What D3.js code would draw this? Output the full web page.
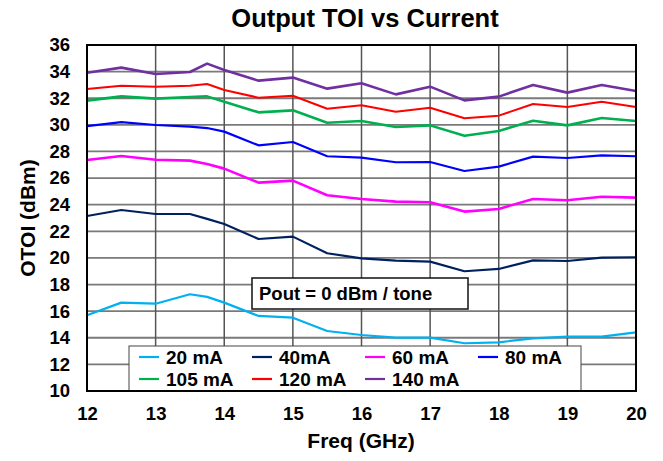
<!DOCTYPE html>
<html>
<head>
<meta charset="utf-8">
<script src="https://cdn.jsdelivr.net/npm/d3@7"></script>
<style>
  html, body { margin: 0; padding: 0; background: #fff; }
  svg { display: block; font-family: Arial, "Liberation Sans", sans-serif; font-weight: bold; }
</style>
</head>
<body>
<div id="chart"></div>
<script>
const freqs = [12, 12.5, 13, 13.5, 13.75, 14, 14.5, 15, 15.5, 16, 16.5, 17, 17.5, 18, 18.5, 19, 19.5, 20];
const seriesNames = ["20 mA", "40mA", "60 mA", "80 mA", "105 mA", "120 mA", "140 mA"];
const s20  = [15.69, 16.64, 16.56, 17.27, 17.07, 16.64, 15.64, 15.51, 14.51, 14.21, 14.01, 14.01, 13.59, 13.66, 13.96, 14.08, 14.08, 14.41];
const s40  = [23.15, 23.60, 23.30, 23.30, 22.93, 22.55, 21.42, 21.60, 20.35, 19.97, 19.79, 19.72, 19.00, 19.17, 19.82, 19.77, 20.02, 20.05];
const s60  = [27.36, 27.66, 27.38, 27.31, 27.06, 26.71, 25.66, 25.81, 24.71, 24.43, 24.23, 24.18, 23.48, 23.68, 24.43, 24.33, 24.60, 24.53];
const s80  = [29.91, 30.21, 29.99, 29.86, 29.76, 29.49, 28.46, 28.71, 27.64, 27.54, 27.19, 27.21, 26.53, 26.86, 27.61, 27.51, 27.71, 27.64];
const s105 = [31.82, 32.14, 31.97, 32.09, 32.14, 31.74, 30.94, 31.09, 30.16, 30.29, 29.84, 29.96, 29.18, 29.54, 30.31, 29.96, 30.51, 30.29];
const s120 = [32.69, 32.94, 32.87, 32.94, 33.07, 32.62, 32.04, 32.19, 31.21, 31.47, 30.99, 31.29, 30.49, 30.69, 31.57, 31.34, 31.74, 31.34];
const s140 = [33.92, 34.30, 33.82, 33.97, 34.60, 34.12, 33.32, 33.55, 32.72, 33.12, 32.29, 32.87, 31.84, 32.12, 33.00, 32.42, 33.00, 32.54];
const xTicks = [12, 13, 14, 15, 16, 17, 18, 19, 20];
const yTicks = [10, 12, 14, 16, 18, 20, 22, 24, 26, 28, 30, 32, 34, 36];
const titleText = "Output TOI vs Current";
const xLabel = "Freq (GHz)";
const yLabel = "OTOI (dBm)";
const noteText = "Pout = 0 dBm / tone";

const allSeries = [s20, s40, s60, s80, s105, s120, s140];
const colors = ["#00B0F0", "#002060", "#FF00FF", "#0000FF", "#00B050", "#FF0000", "#7030A0"];
const widths = [2.2, 2.2, 2.6, 2.2, 2.6, 2.0, 2.6];

const W = 663, H = 461;
const L = 87, R = 636, T = 45, B = 391;

const svg = d3.select("#chart").append("svg").attr("width", W).attr("height", H);

const x = d3.scaleLinear().domain([12, 20]).range([L, R]);
const y = d3.scaleLinear().domain([10, 36]).range([B, T]);

// grid
svg.append("g").selectAll("line").data(yTicks.slice(1, -1)).join("line")
  .attr("x1", L).attr("x2", R).attr("y1", d => y(d)).attr("y2", d => y(d))
  .attr("stroke", "#7a7a7a").attr("stroke-width", 1.8);
svg.append("g").selectAll("line").data(xTicks.slice(1, -1)).join("line")
  .attr("y1", T).attr("y2", B).attr("x1", d => x(d)).attr("x2", d => x(d))
  .attr("stroke", "#555").attr("stroke-width", 1.5);

// axes tick labels
const yAxis = d3.axisLeft(y).tickValues(yTicks).tickSize(0).tickPadding(17);
const gy = svg.append("g").attr("transform", `translate(${L},0)`).call(yAxis);
gy.select(".domain").remove();
gy.selectAll("text").attr("font-size", 18.5).attr("font-weight", "bold").attr("fill", "#000")
  .attr("font-family", "Arial, 'Liberation Sans', sans-serif");

const xAxis = d3.axisBottom(x).tickValues(xTicks).tickSize(0).tickPadding(16);
const gx = svg.append("g").attr("transform", `translate(0,${B})`).call(xAxis);
gx.select(".domain").remove();
gx.selectAll("text").attr("font-size", 18.5).attr("font-weight", "bold").attr("fill", "#000")
  .attr("font-family", "Arial, 'Liberation Sans', sans-serif");

// lines
const line = d3.line().x((d, i) => x(freqs[i])).y(d => y(d));
svg.append("g").selectAll("path").data(allSeries).join("path")
  .attr("d", d => line(d))
  .attr("fill", "none")
  .attr("stroke", (d, i) => colors[i])
  .attr("stroke-width", (d, i) => widths[i])
  .attr("stroke-linejoin", "round");

// annotation box
const note = svg.append("g");
note.append("rect").attr("x", 252).attr("y", 278).attr("width", 216).attr("height", 31)
  .attr("fill", "#fff").attr("stroke", "#111").attr("stroke-width", 1.5);
note.append("text").attr("x", 259).attr("y", 300).attr("font-size", 18.5).text(noteText);

// legend
const leg = svg.append("g");
leg.append("rect").attr("x", 129).attr("y", 346).attr("width", 452).attr("height", B - 346)
  .attr("fill", "#fff").attr("stroke", "#444").attr("stroke-width", 1);
const colX = [139, 252, 365, 478];
const rowY = [364, 386];
seriesNames.forEach((name, i) => {
  const cx = colX[i % 4], ry = rowY[Math.floor(i / 4)];
  leg.append("line").attr("x1", cx).attr("x2", cx + 20).attr("y1", ry - 7).attr("y2", ry - 7)
    .attr("stroke", colors[i]).attr("stroke-width", 2.2);
  leg.append("text").attr("x", cx + 27).attr("y", ry).attr("font-size", 19).text(name);
});

// plot border
svg.append("rect").attr("x", L).attr("y", T).attr("width", R - L).attr("height", B - T)
  .attr("fill", "none").attr("stroke", "#000").attr("stroke-width", 2);

// titles
svg.append("text").attr("x", 365).attr("y", 27).attr("text-anchor", "middle")
  .attr("font-size", 25.5).text(titleText);
svg.append("text").attr("x", 361).attr("y", 448).attr("text-anchor", "middle")
  .attr("font-size", 21).text(xLabel);
svg.append("text").attr("transform", `translate(35,${(T + B) / 2}) rotate(-90)`)
  .attr("text-anchor", "middle").attr("font-size", 21).text(yLabel);
</script>
</body>
</html>
